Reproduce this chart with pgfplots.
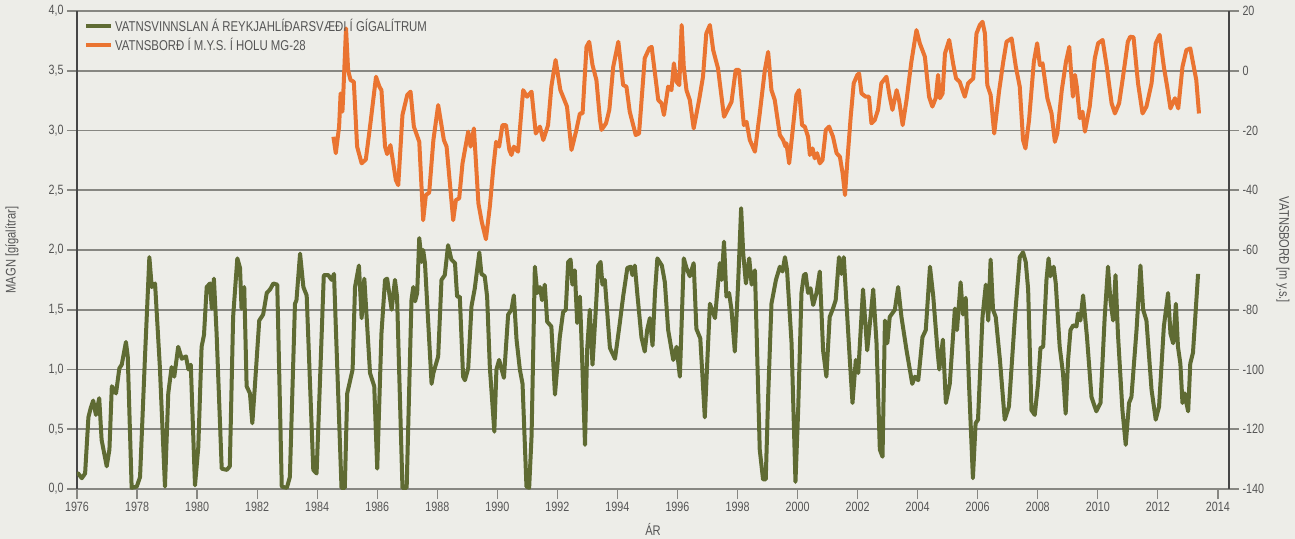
\documentclass[border=0pt]{standalone}
\usepackage{fontspec}
\setmainfont{Liberation Sans}[FakeStretch=0.8]
\usepackage{pgfplots}
\pgfplotsset{compat=1.18}
\definecolor{bg}{RGB}{237,237,232}
\definecolor{olive}{RGB}{95,107,51}
\definecolor{orng}{RGB}{234,116,49}
\definecolor{gridc}{RGB}{135,135,130}
\definecolor{axc}{RGB}{70,70,70}
\definecolor{txt}{RGB}{85,85,85}

\pgfplotsset{
  common/.style={
    width=1152bp, height=478bp, scale only axis,
    xmin=1976, xmax=2014.37,
    tick align=outside, major tick length=10bp,
    /pgf/number format/assume math mode=true,
    ticklabel style={font=\fontsize{13.5}{15}\selectfont, text=txt},
    y axis line style={axc, line width=1.2bp, -},
    ytick style={gridc, line width=1.8bp},
  },
}

\begin{document}
\begin{tikzpicture}
\path[fill=bg] (-77bp,-50bp) rectangle (1218bp,489bp);

\begin{axis}[common,
  axis x line*=bottom, axis y line*=left,
  xtick={1976,1978,...,2014},
  x tick label style={/pgf/number format/1000 sep={}},
  x axis line style={gridc, line width=1.8bp, -},
  xtick style={gridc, line width=1.2bp},
  ymin=0, ymax=4, ytick={0,0.5,...,4},
  yticklabel style={/pgf/number format/.cd, fixed, fixed zerofill, precision=1, use comma},
  ymajorgrids, grid style={gridc, line width=1.8bp},
  xlabel={ÁR}, ylabel={MAGN [gígalítrar]},
  every axis x label/.style={at={(axis description cs:0.5,0)}, anchor=center, yshift=-40bp,
    font=\fontsize{14}{16}\selectfont, text=txt},
  every axis y label/.style={at={(axis description cs:0,0.5)}, anchor=center, xshift=-65bp, rotate=90,
    font=\fontsize{14}{16}\selectfont, text=txt},
]
\addplot[olive, line width=4bp, line join=round] coordinates {
(1976.00,0.12) (1976.04,0.13) (1976.16,0.09) (1976.27,0.13) (1976.38,0.60) (1976.46,0.68)
(1976.54,0.74) (1976.63,0.62) (1976.74,0.76) (1976.82,0.41) (1976.99,0.19) (1977.08,0.33)
(1977.16,0.86) (1977.30,0.80) (1977.41,1.01) (1977.49,1.04) (1977.63,1.23) (1977.69,1.11)
(1977.82,0.01) (1977.99,0.02) (1978.10,0.10) (1978.26,1.08) (1978.41,1.94) (1978.49,1.69)
(1978.60,1.72) (1978.76,1.02) (1978.93,0.02) (1979.04,0.80) (1979.15,1.02) (1979.24,0.94)
(1979.37,1.19) (1979.49,1.09) (1979.63,1.11) (1979.71,1.00) (1979.79,1.04) (1979.93,0.03)
(1980.04,0.35) (1980.15,1.19) (1980.23,1.29) (1980.32,1.69) (1980.43,1.72) (1980.49,1.51)
(1980.56,1.76) (1980.65,1.30) (1980.82,0.17) (1980.99,0.16) (1981.09,0.19) (1981.20,1.44)
(1981.34,1.93) (1981.43,1.85) (1981.48,1.51) (1981.57,1.69) (1981.65,0.86) (1981.76,0.80)
(1981.84,0.55) (1981.93,0.88) (1982.07,1.41) (1982.20,1.46) (1982.32,1.64) (1982.43,1.67)
(1982.54,1.72) (1982.67,1.71) (1982.82,0.02) (1982.99,0.01) (1983.09,0.10) (1983.26,1.55)
(1983.31,1.58) (1983.43,1.97) (1983.54,1.69) (1983.65,1.62) (1983.87,0.16) (1983.98,0.13)
(1984.09,0.88) (1984.22,1.79) (1984.37,1.79) (1984.48,1.75) (1984.56,1.80) (1984.62,1.36)
(1984.81,0.01) (1984.92,0.01) (1985.00,0.80) (1985.18,1.00) (1985.26,1.69) (1985.39,1.87)
(1985.48,1.43) (1985.57,1.76) (1985.76,0.97) (1985.90,0.86) (1986.00,0.17) (1986.14,1.30)
(1986.26,1.75) (1986.33,1.76) (1986.48,1.50) (1986.59,1.75) (1986.66,1.61) (1986.84,0.01)
(1986.98,0.01) (1987.14,1.58) (1987.20,1.69) (1987.26,1.57) (1987.33,1.64) (1987.40,2.10)
(1987.48,1.90) (1987.53,2.00) (1987.59,1.89) (1987.81,0.88) (1987.87,0.97) (1988.03,1.11)
(1988.14,1.75) (1988.25,1.79) (1988.36,2.04) (1988.47,1.92) (1988.59,1.89) (1988.66,1.61)
(1988.75,1.61) (1988.86,0.94) (1988.92,0.91) (1989.03,1.01) (1989.14,1.53) (1989.25,1.68)
(1989.40,1.98) (1989.47,1.80) (1989.58,1.78) (1989.66,1.61) (1989.75,1.02) (1989.90,0.48)
(1989.97,1.00) (1990.06,1.08) (1990.22,0.93) (1990.36,1.46) (1990.47,1.50) (1990.55,1.62)
(1990.64,1.25) (1990.75,1.00) (1990.84,0.88) (1990.97,0.02) (1991.06,0.01) (1991.14,0.44)
(1991.25,1.86) (1991.33,1.64) (1991.42,1.69) (1991.49,1.58) (1991.58,1.71) (1991.66,1.40)
(1991.80,1.36) (1991.92,0.79) (1992.08,1.27) (1992.19,1.48) (1992.28,1.50) (1992.36,1.90)
(1992.44,1.92) (1992.50,1.71) (1992.58,1.83) (1992.66,1.39) (1992.75,1.61) (1992.80,1.27)
(1992.92,0.37) (1992.99,1.16) (1993.08,1.50) (1993.17,1.04) (1993.28,1.50) (1993.36,1.87)
(1993.44,1.90) (1993.50,1.71) (1993.58,1.75) (1993.75,1.18) (1993.92,1.09) (1994.08,1.39)
(1994.19,1.61) (1994.33,1.85) (1994.44,1.86) (1994.50,1.79) (1994.58,1.87) (1994.66,1.64)
(1994.80,1.27) (1994.91,1.15) (1994.99,1.33) (1995.08,1.43) (1995.17,1.20) (1995.25,1.64)
(1995.33,1.93) (1995.48,1.87) (1995.58,1.73) (1995.69,1.33) (1995.86,1.08) (1995.97,1.19)
(1996.08,0.94) (1996.21,1.93) (1996.30,1.85) (1996.41,1.78) (1996.54,1.89) (1996.63,1.34)
(1996.76,1.26) (1996.91,0.60) (1997.08,1.55) (1997.25,1.43) (1997.41,1.89) (1997.47,1.75)
(1997.55,2.07) (1997.63,1.61) (1997.72,1.64) (1997.80,1.50) (1997.91,1.15) (1998.02,1.72)
(1998.12,2.35) (1998.19,1.97) (1998.28,1.72) (1998.39,1.93) (1998.47,1.71) (1998.58,1.83)
(1998.74,0.33) (1998.85,0.08) (1998.94,0.08) (1999.02,0.77) (1999.13,1.55) (1999.28,1.75)
(1999.41,1.86) (1999.50,1.82) (1999.58,1.94) (1999.65,1.83) (1999.80,1.22) (1999.93,0.06)
(2000.02,0.66) (2000.13,1.64) (2000.21,1.79) (2000.27,1.80) (2000.35,1.64) (2000.43,1.68)
(2000.52,1.54) (2000.63,1.64) (2000.74,1.82) (2000.85,1.16) (2000.96,0.94) (2001.07,1.44)
(2001.18,1.51) (2001.27,1.58) (2001.38,1.94) (2001.46,1.80) (2001.54,1.94) (2001.63,1.55)
(2001.74,1.08) (2001.83,0.72) (2001.94,1.08) (2002.02,0.97) (2002.18,1.67) (2002.32,1.16)
(2002.52,1.67) (2002.63,1.22) (2002.74,0.33) (2002.83,0.27) (2002.91,1.41) (2002.99,1.22)
(2003.07,1.44) (2003.24,1.50) (2003.35,1.69) (2003.46,1.44) (2003.63,1.16) (2003.82,0.88)
(2003.91,0.94) (2004.02,0.91) (2004.16,1.27) (2004.27,1.33) (2004.41,1.86) (2004.52,1.61)
(2004.66,1.16) (2004.72,1.00) (2004.84,1.25) (2004.94,0.72) (2005.07,0.88) (2005.24,1.51)
(2005.31,1.33) (2005.43,1.73) (2005.51,1.46) (2005.60,1.60) (2005.71,0.88) (2005.84,0.09)
(2005.93,0.55) (2006.01,0.58) (2006.16,1.44) (2006.27,1.71) (2006.35,1.41) (2006.43,1.92)
(2006.51,1.50) (2006.60,1.44) (2006.74,1.08) (2006.90,0.58) (2007.04,0.69) (2007.24,1.44)
(2007.40,1.94) (2007.51,1.98) (2007.60,1.90) (2007.68,1.67) (2007.79,0.66) (2007.90,0.62)
(2008.01,0.88) (2008.09,1.18) (2008.18,1.19) (2008.29,1.75) (2008.36,1.93) (2008.42,1.78)
(2008.53,1.86) (2008.60,1.72) (2008.73,1.19) (2008.84,0.97) (2008.93,0.63) (2009.01,1.08)
(2009.09,1.33) (2009.18,1.37) (2009.29,1.36) (2009.34,1.47) (2009.42,1.41) (2009.51,1.62)
(2009.64,1.27) (2009.79,0.77) (2009.95,0.65) (2010.09,0.72) (2010.23,1.44) (2010.34,1.86)
(2010.42,1.58) (2010.51,1.41) (2010.59,1.79) (2010.67,1.30) (2010.82,0.66) (2010.93,0.37)
(2011.04,0.72) (2011.12,0.77) (2011.29,1.33) (2011.42,1.87) (2011.51,1.50) (2011.62,1.41)
(2011.79,0.83) (2011.93,0.58) (2012.04,0.69) (2012.20,1.36) (2012.34,1.64) (2012.42,1.30)
(2012.51,1.22) (2012.60,1.55) (2012.67,1.19) (2012.75,1.05) (2012.82,0.72) (2012.90,0.80)
(2012.95,0.72) (2013.01,0.65) (2013.08,1.05) (2013.17,1.14) (2013.34,1.80)
};
\end{axis}

\begin{axis}[common,
  axis x line=none, axis y line*=right,
  ymin=-140, ymax=20, ytick={-140,-120,...,20},
  ylabel={VATNSBORÐ [m y.s.]},
  every axis y label/.style={at={(axis description cs:1,0.5)}, anchor=center, xshift=54bp, rotate=-90,
    font=\fontsize{14}{16}\selectfont, text=txt},
  legend style={at={(axis description cs:0,1)}, anchor=north west, xshift=4bp, yshift=-4bp,
    draw=none, fill=none, font=\fontsize{14.3}{16}\selectfont, text=txt, row sep=1bp},
  legend cell align=left,
  legend image code/.code={\draw[#1] (0bp,0bp) -- (25bp,0bp);},
]
\addlegendimage{olive, line width=4bp}
\addlegendentry{VATNSVINNSLAN Á REYKJAHLÍÐARSVÆÐI Í GÍGALÍTRUM}
\addplot[orng, line width=4bp, line join=round] coordinates {
(1984.54,-22.1) (1984.62,-27.6) (1984.73,-18.7) (1984.78,-7.6) (1984.84,-13.7) (1984.87,-7.6)
(1984.96,14.2) (1985.03,0.2) (1985.11,-3.1) (1985.22,-3.7) (1985.33,-25.4) (1985.48,-31.0)
(1985.62,-29.7) (1985.76,-18.7) (1985.96,-2.0) (1986.07,-5.3) (1986.14,-6.5) (1986.26,-25.4)
(1986.33,-27.9) (1986.44,-24.9) (1986.62,-36.6) (1986.70,-38.3) (1986.84,-14.8) (1987.00,-8.1)
(1987.11,-7.0) (1987.22,-18.7) (1987.40,-23.8) (1987.53,-50.0) (1987.62,-41.6) (1987.73,-40.8)
(1987.87,-23.2) (1988.03,-11.5) (1988.22,-23.2) (1988.31,-25.4) (1988.53,-50.0) (1988.62,-43.3)
(1988.73,-42.7) (1988.84,-31.0) (1989.03,-20.4) (1989.11,-25.4) (1989.22,-19.3) (1989.37,-44.4)
(1989.48,-50.5) (1989.62,-56.4) (1989.75,-45.5) (1989.87,-32.1) (1989.96,-23.8) (1990.06,-25.4)
(1990.17,-18.2) (1990.29,-18.2) (1990.40,-26.5) (1990.47,-28.2) (1990.55,-25.4) (1990.69,-27.1)
(1990.86,-6.5) (1990.99,-8.7) (1991.14,-7.0) (1991.28,-21.0) (1991.42,-18.7) (1991.53,-23.2)
(1991.69,-18.2) (1991.80,-5.3) (1991.94,3.6) (1992.10,-6.5) (1992.19,-8.7) (1992.32,-12.0)
(1992.47,-26.5) (1992.62,-20.4) (1992.75,-14.3) (1992.84,-14.3) (1992.97,8.0) (1993.06,9.7)
(1993.17,1.9) (1993.30,-3.1) (1993.42,-16.5) (1993.47,-19.8) (1993.62,-17.6) (1993.73,-13.1)
(1993.86,1.3) (1994.03,9.7) (1994.19,-4.8) (1994.30,-5.3) (1994.41,-13.7) (1994.61,-21.5)
(1994.72,-21.0) (1994.91,4.2) (1995.06,7.5) (1995.14,8.0) (1995.36,-9.8) (1995.47,-10.9)
(1995.55,-14.8) (1995.69,-5.3) (1995.80,-6.5) (1995.88,2.5) (1995.97,-3.7) (1996.06,-4.8)
(1996.14,15.3) (1996.21,1.3) (1996.30,-6.5) (1996.41,-9.8) (1996.54,-19.3) (1996.72,-9.8)
(1996.85,-2.0) (1996.96,12.5) (1997.08,15.3) (1997.19,6.9) (1997.35,0.8) (1997.55,-15.4)
(1997.69,-12.6) (1997.80,-10.4) (1997.94,0.3) (1998.05,0.3) (1998.21,-18.2) (1998.30,-17.1)
(1998.41,-23.2) (1998.58,-27.1) (1998.74,-14.3) (1998.91,0.2) (1999.02,6.3) (1999.13,-6.5)
(1999.24,-9.8) (1999.41,-21.5) (1999.52,-23.2) (1999.60,-25.4) (1999.63,-24.3) (1999.72,-31.0)
(1999.85,-18.7) (1999.96,-8.1) (2000.05,-6.5) (2000.15,-18.2) (2000.24,-18.7) (2000.35,-22.1)
(2000.41,-28.2) (2000.50,-26.0) (2000.57,-29.3) (2000.65,-27.6) (2000.74,-31.0) (2000.83,-29.9)
(2000.94,-19.8) (2001.05,-18.7) (2001.18,-22.1) (2001.30,-27.6) (2001.41,-28.8) (2001.50,-34.3)
(2001.58,-41.6) (2001.66,-29.9) (2001.77,-15.4) (2001.87,-4.2) (2001.99,-1.4) (2002.05,-0.9)
(2002.13,-7.6) (2002.27,-8.7) (2002.38,-8.7) (2002.46,-17.6) (2002.57,-16.5) (2002.68,-13.1)
(2002.79,-4.2) (2002.96,-2.0) (2003.07,-8.7) (2003.16,-13.1) (2003.30,-6.5) (2003.38,-9.8)
(2003.50,-18.2) (2003.63,-9.8) (2003.79,3.0) (2003.96,13.6) (2004.07,9.2) (2004.24,4.7)
(2004.38,-8.7) (2004.49,-12.0) (2004.60,-9.2) (2004.68,-1.4) (2004.74,-9.2) (2004.83,-7.6)
(2004.91,5.8) (2005.05,10.3) (2005.19,1.9) (2005.28,-2.6) (2005.40,-3.7) (2005.57,-8.7)
(2005.68,-4.2) (2005.85,-2.6) (2005.96,12.5) (2006.07,15.3) (2006.16,16.4) (2006.24,12.5)
(2006.32,-4.8) (2006.43,-8.1) (2006.55,-21.0) (2006.71,-7.0) (2006.85,3.0) (2006.96,9.7)
(2007.13,10.8) (2007.27,1.3) (2007.40,-5.3) (2007.51,-23.2) (2007.59,-26.0) (2007.71,-16.5)
(2007.87,3.0) (2007.98,9.2) (2008.07,1.9) (2008.16,2.5) (2008.32,-9.2) (2008.46,-14.3)
(2008.57,-23.8) (2008.65,-21.0) (2008.80,-6.5) (2008.94,3.0) (2009.05,8.0) (2009.17,-8.7)
(2009.24,-1.4) (2009.30,-5.3) (2009.40,-15.9) (2009.49,-13.7) (2009.57,-20.4) (2009.73,-12.0)
(2009.90,4.2) (2010.01,9.2) (2010.16,10.3) (2010.29,1.9) (2010.46,-10.9) (2010.57,-14.3)
(2010.71,-10.9) (2010.84,-2.0) (2011.00,9.7) (2011.08,11.4) (2011.19,11.2) (2011.34,-4.2)
(2011.49,-14.3) (2011.62,-12.0) (2011.79,-4.2) (2011.93,9.2) (2012.06,12.0) (2012.20,1.3)
(2012.31,-5.3) (2012.42,-12.6) (2012.57,-9.2) (2012.68,-12.6) (2012.82,1.3) (2012.95,6.9)
(2013.08,7.5) (2013.28,-3.1) (2013.37,-14.3)
};
\addlegendentry{VATNSBORÐ Í M.Y.S. Í HOLU MG-28}
\end{axis}

\pgfresetboundingbox
\path[use as bounding box] (-77bp,-50bp) rectangle (1218bp,489bp);
\end{tikzpicture}
\end{document}
